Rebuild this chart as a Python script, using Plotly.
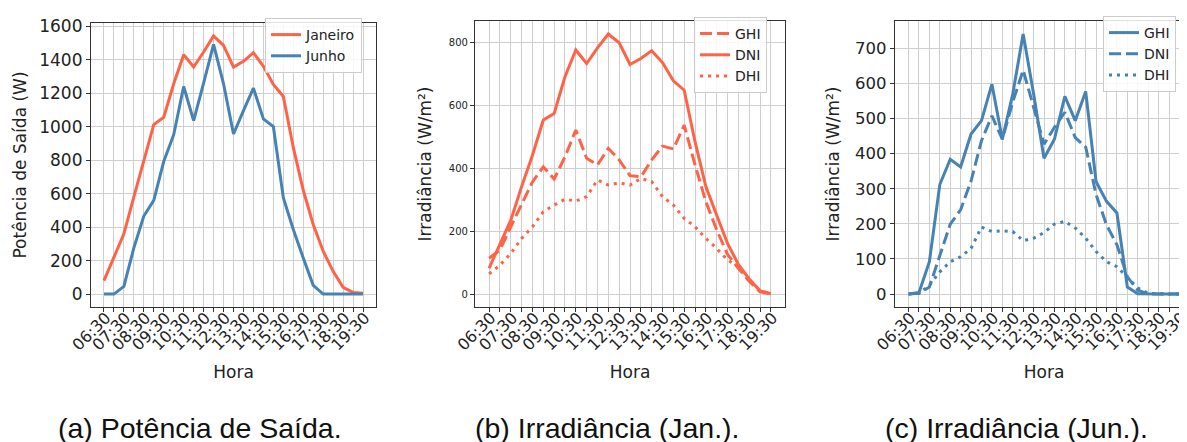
import plotly.graph_objects as go

horas = ["06:30", "07:00", "07:30", "08:00", "08:30", "09:00", "09:30", "10:00", "10:30",
         "11:00", "11:30", "12:00", "12:30", "13:00", "13:30", "14:00", "14:30", "15:00",
         "15:30", "16:00", "16:30", "17:00", "17:30", "18:00", "18:30", "19:00", "19:30"]
rotulos = [h if h.endswith(":30") else "" for h in horas]

pot_janeiro = [80, 220, 360, 580, 800, 1012, 1056, 1256, 1430, 1356, 1446, 1542, 1486, 1356,
               1390, 1442, 1360, 1252, 1180, 876, 620, 416, 256, 136, 40, 10, 5]
pot_junho = [0, 0, 46, 276, 466, 560, 792, 952, 1240, 1036, 1260, 1492, 1256, 956,
             1096, 1230, 1046, 1000, 576, 386, 216, 52, 0, 0, 0, 0, 0]

jan_ghi = [114, 140, 214, 283, 357, 405, 366, 437, 522, 432, 411, 464, 427, 377,
           373, 427, 471, 462, 538, 411, 294, 204, 126, 82, 41, 7, 1]
jan_dni = [82, 160, 235, 342, 442, 554, 575, 692, 777, 734, 784, 828, 800, 731,
           750, 775, 737, 679, 649, 485, 342, 251, 161, 94, 48, 10, 1]
jan_dhi = [64, 92, 129, 177, 214, 262, 283, 302, 296, 310, 363, 347, 354, 347,
           368, 358, 310, 283, 241, 214, 177, 145, 108, 87, 41, 11, 1]

jun_ghi = [0, 4, 92, 312, 384, 362, 456, 494, 598, 441, 570, 741, 571, 387,
           441, 563, 494, 577, 320, 264, 231, 20, 1, 0, 0, 0, 0]
jun_dni = [0, 2, 20, 111, 199, 240, 322, 437, 508, 441, 547, 638, 532, 427,
           475, 518, 446, 419, 283, 197, 140, 49, 11, 0, 0, 0, 0]
jun_dhi = [0, 2, 25, 63, 92, 106, 130, 191, 178, 180, 178, 152, 159, 175,
           199, 207, 188, 159, 121, 92, 78, 46, 17, 2, 0, 0, 0]

legendas = ["(a) Potência de Saída.", "(b) Irradiância (Jan.).", "(c) Irradiância (Jun.)."]

LARANJA = "#FF6347"
AZUL = "#4682B4"
W, H = 1187, 442
FONT = "DejaVu Sans"
LW = 3
DASH = "12px,5px"
DOT = "3px,5px"

fig = go.Figure()

def add(y, name, color, dash, k, leg):
    fig.add_trace(go.Scatter(
        x=horas, y=y, name=name, mode="lines",
        line=dict(color=color, width=LW, dash=dash),
        xaxis="x" if k == 1 else f"x{k}", yaxis="y" if k == 1 else f"y{k}",
        legend=leg))

add(pot_janeiro, "Janeiro", LARANJA, "solid", 1, "legend")
add(pot_junho, "Junho", AZUL, "solid", 1, "legend")
add(jan_ghi, "GHI", LARANJA, DASH, 2, "legend2")
add(jan_dni, "DNI", LARANJA, "solid", 2, "legend2")
add(jan_dhi, "DHI", LARANJA, DOT, 2, "legend2")
add(jun_ghi, "GHI", AZUL, "solid", 3, "legend3")
add(jun_dni, "DNI", AZUL, DASH, 3, "legend3")
add(jun_dhi, "DHI", AZUL, DOT, 3, "legend3")

xdoms = [(83, 368), (467, 777), (887, 1185)]
ytops = [15, 13, 13]
ybot = 299
yranges = [[-77.1, 1619.1], [-41.4, 869.4], [-37, 778]]
ydticks = [200, 200, 100]
ytickfont = [17, 10, 16.5]
ytitles = ["Potência de Saída (W)", "Irradiância (W/m²)", "Irradiância (W/m²)"]
ystandoff = [8, 12, 11]

axis_common = dict(showline=True, mirror=True, linecolor="#333333", linewidth=1.2,
                   showgrid=True, gridcolor="#cfcfcf", gridwidth=1, automargin=False,
                   ticks="outside", ticklen=4, tickcolor="#333333", zeroline=False)

lay = {}
for i in range(3):
    k = i + 1
    xn = "xaxis" if k == 1 else f"xaxis{k}"
    yn = "yaxis" if k == 1 else f"yaxis{k}"
    ya = "y" if k == 1 else f"y{k}"
    xa = "x" if k == 1 else f"x{k}"
    lay[xn] = dict(axis_common, domain=[xdoms[i][0] / W, xdoms[i][1] / W], anchor=ya,
                   type="category", categoryorder="array", categoryarray=horas,
                   range=[-1.3, 27.3], tickmode="array", tickvals=horas, ticktext=rotulos,
                   tickangle=-45, ticklabelshift=2, ticklabelstandoff=-10,
                   tickfont=dict(family=FONT, size=16, color="#222"),
                   title=dict(text="Hora", font=dict(family=FONT, size=17, color="#222"), standoff=12))
    lay[yn] = dict(axis_common, domain=[1 - ybot / H, 1 - ytops[i] / H], anchor=xa,
                   range=yranges[i], tick0=0, dtick=ydticks[i],
                   tickfont=dict(family=FONT, size=ytickfont[i], color="#222"),
                   title=dict(text=ytitles[i], font=dict(family=FONT, size=17, color="#222"),
                              standoff=ystandoff[i]))

leg_common = dict(bgcolor="rgba(255,255,255,0.85)", bordercolor="#cccccc", borderwidth=1,
                  font=dict(family=FONT, size=14, color="#222"), xanchor="right", yanchor="top",
                  tracegroupgap=0, itemwidth=30)
lay["legend"] = dict(leg_common, x=354 / W, y=1 - 10 / H)
lay["legend2"] = dict(leg_common, x=759 / W, y=1 - 9 / H)
lay["legend3"] = dict(leg_common, x=1168 / W, y=1 - 8 / H)

ann = []
for i, cx in enumerate([192, 600, 1009]):
    ann.append(dict(text=legendas[i], x=cx / W, y=1 - 420 / H, xref="paper", yref="paper",
                    xanchor="center", yanchor="middle", showarrow=False,
                    font=dict(family="Liberation Sans", size=28.5, color="#111")))

fig.update_layout(width=W, height=H, margin=dict(l=0, r=0, t=0, b=0),
                  plot_bgcolor="white", paper_bgcolor="white", showlegend=True,
                  annotations=ann, **lay)

fig.write_html("out.html")
